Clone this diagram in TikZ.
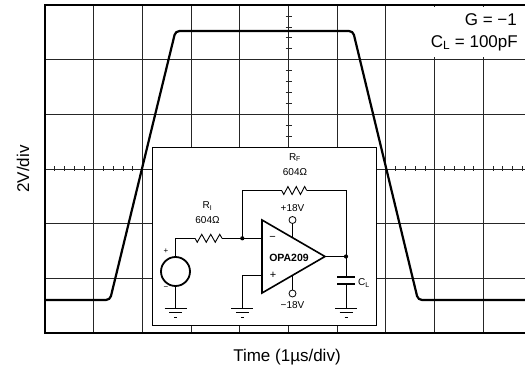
\documentclass[tikz,border=0pt]{standalone}
\usepackage{fontspec}
\setmainfont{Liberation Sans}
\usetikzlibrary{calc}
\begin{document}
\begin{tikzpicture}[x=1pt,y=-1pt,
  gridline/.style={line width=0.85pt, black!85},
  tickline/.style={line width=0.6pt, black!85},
  frame/.style={line width=2.6pt, black},
  wave/.style={line width=2.2pt, black, rounded corners=4pt},
  wire/.style={line width=0.9pt, black},
  srccircle/.style={line width=1.8pt, black},
  inset/.style={line width=0.9pt, black, fill=white},
  dot/.style={circle, fill=black, inner sep=0pt, minimum size=4.2pt},
  pin/.style={circle, draw=black, line width=0.8pt, fill=white, inner sep=0pt, minimum size=7pt},
  biglbl/.style={inner sep=0pt, font=\fontsize{17}{20}\selectfont},
  lbl/.style={inner sep=0pt, font=\fontsize{10}{12}\selectfont},
  smlbl/.style={inner sep=0pt, font=\fontsize{8}{10}\selectfont}
]
\useasboundingbox (0,0) rectangle (525,371);
\clip (0,0) rectangle (525,371);

% grid
\foreach \i in {1,...,10} \draw[gridline] ({45+\i*48.7},5) -- ({45+\i*48.7},333);
\foreach \j in {1,...,5} \draw[gridline] (45,{5+\j*54.667}) -- (530,{5+\j*54.667});
% minor ticks
\foreach \k in {1,...,50} \draw[tickline] ({45+\k*9.74},166.5) -- ({45+\k*9.74},171.5);
\foreach \k in {1,...,29} \draw[tickline] (285.5,{5+\k*10.933}) -- (291.5,{5+\k*10.933});
% white patch behind the top-right labels
\fill[white] (395,7) rectangle (530,57.5);
% frame
\draw[frame] (530,5) -- (45,5) -- (45,333) -- (530,333);

% waveform
\coordinate (w0) at (45,300);
\coordinate (w1) at (110,300);
\coordinate (w2) at (175.5,31);
\coordinate (w3) at (353,31);
\coordinate (w4) at (418,300);
\coordinate (w5) at (530,300);
\draw[wave] (w0) -- (w1) -- (w2) -- (w3) -- (w4) -- (w5);

% labels
\node[biglbl, anchor=east] (gain) at (517,20) {G = −1};
\node[biglbl, anchor=east] (cl) at (518,43) {C\textsubscript{L} = 100pF};
\node[biglbl, rotate=90] (ylab) at (23,169) {2V/div};
\node[biglbl] (xlab) at (287,357) {Time (1µs/div)};

% inset box
\draw[inset] (152,147) rectangle (376,325);

% circuit coordinates
\coordinate (S) at (175.5,271.5);
\coordinate (Stop) at (175.5,257);
\coordinate (Sbot) at (175.5,286);
\coordinate (A) at (175.5,238.3);
\coordinate (RIa) at (195,238.3);
\coordinate (RIb) at (222,238.3);
\coordinate (N1) at (242.3,238.3);
\coordinate (B) at (242.3,190.5);
\coordinate (RFa) at (281.7,190.5);
\coordinate (RFb) at (306.7,190.5);
\coordinate (C) at (346,190.5);
\coordinate (N2) at (346,256.5);
\coordinate (T1) at (262,220);
\coordinate (T2) at (262,293);
\coordinate (T3) at (325,256.5);
\coordinate (inm) at (262,238.3);
\coordinate (inp) at (262,275);
\coordinate (gP) at (242.3,275);
\coordinate (g1) at (175.5,308);
\coordinate (g2) at (242.3,308);
\coordinate (g3) at (346,308);
\coordinate (capT) at (346,277);
\coordinate (capB) at (346,284);
\coordinate (vpA) at (292.5,237.7);
\coordinate (vmA) at (292.5,275.3);

% source
\draw[srccircle] (S) circle (14.5pt);
\draw[wire] (Stop) -- (A) -- (RIa);
\draw[wire] (RIa) -- ++(2.25,4) -- ++(4.5,-8) -- ++(4.5,8) -- ++(4.5,-8) -- ++(4.5,8) -- ++(4.5,-8) -- (RIb);
\draw[wire] (RIb) -- (N1) -- (inm);
\draw[wire] (N1) -- (B) -- (RFa);
\draw[wire] (RFa) -- ++(2.08,4) -- ++(4.17,-8) -- ++(4.17,8) -- ++(4.17,-8) -- ++(4.17,8) -- ++(4.17,-8) -- (RFb);
\draw[wire] (RFb) -- (C) -- (N2);
\draw[wire] (Sbot) -- (g1);
\draw[wire] (inp) -- (gP) -- (g2);
% op amp
\draw[wire, line width=1.6pt, line join=miter] (T1) -- (T2) -- (T3) -- cycle;
\node[pin] (vp) at (292.5,220) {};
\node[pin] (vm) at (292.5,293.5) {};
\draw[wire] (vpA) -- (vp);
\draw[wire] (vmA) -- (vm);
\draw[wire] (T3) -- (N2) -- (capT);
\draw[wire] (capB) -- (g3);
\draw[wire, line width=1.2pt] ($(capT)+(-9,0)$) -- ($(capT)+(9,0)$);
\draw[wire, line width=1.2pt] ($(capB)+(-9,0)$) -- ($(capB)+(9,0)$);
\node[dot] (d1) at (N1) {};
\node[dot] (d2) at (N2) {};
% grounds
\foreach \g in {g1,g2,g3} {
  \draw[wire] ($(\g)+(-11,0)$) -- ($(\g)+(11,0)$);
  \draw[wire] ($(\g)+(-6.5,4.7)$) -- ($(\g)+(6.5,4.7)$);
  \draw[wire] ($(\g)+(-1.5,9.5)$) -- ($(\g)+(1.5,9.5)$);
}

% circuit labels
\node[lbl] (rin) at (207.5,206) {R\textsubscript{I}};
\node[lbl] (rinv) at (207.5,220.5) {604Ω};
\node[lbl] (rfn) at (295,157.5) {R\textsubscript{F}};
\node[lbl] (rfv) at (295,172.5) {604Ω};
\node[lbl] (vpl) at (292.5,208) {+18V};
\node[lbl] (vml) at (292.5,305.5) {−18V};
\node[lbl, font=\fontsize{10.5}{12}\bfseries] (opa) at (289,258) {OPA209};
\node[lbl, font=\fontsize{11}{12}\selectfont] (mi) at (272.7,238.5) {−};
\node[lbl, font=\fontsize{11}{12}\selectfont] (pl) at (273,275) {+};
\node[smlbl] (sp) at (166,251.5) {+};
\node[smlbl] (sm) at (166,288.5) {−};
\node[lbl, anchor=west] (cll) at (358,283) {C\textsubscript{L}};
\end{tikzpicture}
\end{document}
